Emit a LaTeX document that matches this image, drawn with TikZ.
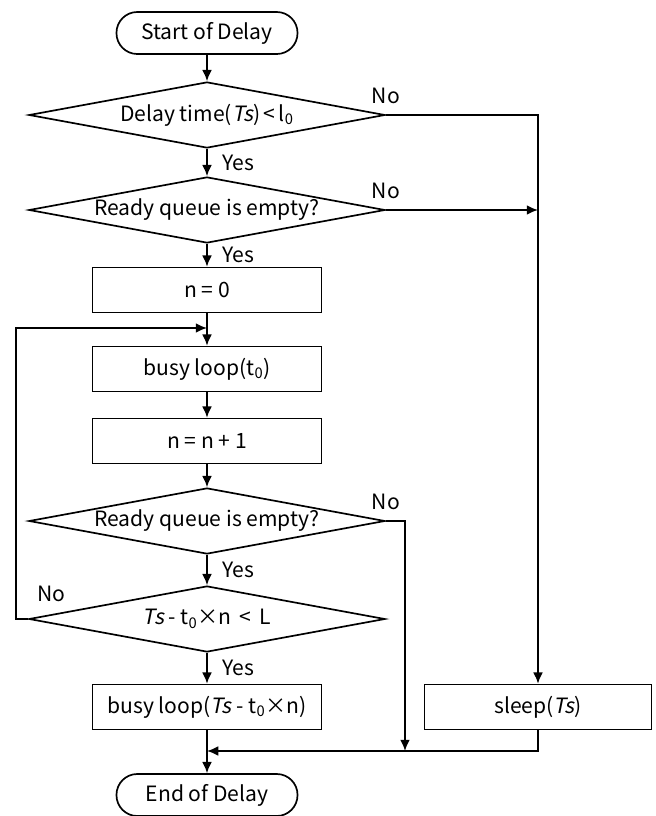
\documentclass[tikz,border=0pt]{standalone}
\usepackage{fontspec}
\setmainfont{Noto Sans CJK JP}[AutoFakeSlant=0.2]
\usetikzlibrary{shapes.geometric,arrows.meta,positioning}

\tikzset{
	term/.style={draw,line width=1.2pt,rounded corners=0.52cm,minimum width=4.525cm,minimum height=1.05cm,inner sep=0pt},
	decide/.style={draw,diamond,aspect=5.4,inner sep=0pt,line width=1.2pt,minimum width=8.9cm,minimum height=1.65cm},
	proc/.style={draw,line width=1.2pt,minimum width=5.725cm,minimum height=1.125cm,inner sep=0pt},
	flow/.style={line width=1.2pt,-{Latex[length=8pt,width=7pt]}},
	yes/.style={right=0.3cm,inner sep=2pt},
	no/.style={anchor=south,yshift=0.2cm,inner sep=2pt}
}

\begin{document}
\begin{tikzpicture}[x=0.025cm,y=-0.025cm,font=\fontsize{15}{18}\selectfont]
	\useasboundingbox (0,0) rectangle (656,816);
	\node[term] (start) at (207,33) {Start of Delay};
	\node[decide] (d1) at (207,115) {Delay time(\textit{Ts})\,<\,l\textsubscript{0}};
	\node[decide] (d2) at (207,210) {Ready queue is empty?};
	\node[proc] (n0) at (207,290) {n = 0};
	\node[proc] (busy1) at (207,369) {busy loop(t\textsubscript{0})};
	\node[proc] (inc) at (207,441) {n = n + 1};
	\node[decide] (d3) at (207,521) {Ready queue is empty?};
	\node[decide] (d4) at (207,619) {\textit{Ts} - t\textsubscript{0}×n\, < \,L};
	\node[proc] (busy2) at (207,707) {busy loop(\textit{Ts} - t\textsubscript{0}×n)};
	\node[proc,minimum width=5.675cm] (sleep) at (538,707) {sleep(\textit{Ts})};
	\node[term] (end) at (207,795) {End of Delay};
	\coordinate (join) at (207,328);
	\coordinate (merge) at (207,751);
	\coordinate (skip) at (405,751);
	\coordinate (back) at (16,619);

	\draw[flow] (start) -- (d1);
	\draw[flow] (d1) -- node[yes]{Yes} (d2);
	\draw[flow] (d2) -- node[yes]{Yes} (n0);
	\draw[flow] (n0) -- (busy1);
	\draw[flow] (busy1) -- (inc);
	\draw[flow] (inc) -- (d3);
	\draw[flow] (d3) -- node[yes]{Yes} (d4);
	\draw[flow] (d4) -- node[yes]{Yes} (busy2);
	\draw[flow] (busy2) -- (end);
	\draw[flow] (d1.east) node[no]{No} -| (sleep.north);
	\draw[flow] (d2.east) node[no]{No} -- (d2.east -| sleep.north);
	\draw[flow] (d3.east) node[no]{No} -| (skip);
	\draw[flow] (sleep.south) |- (merge);
	\draw[flow] (d4.west) -- (back) |- (join);
	\node[anchor=south west,inner sep=2pt] (no4) at ([xshift=0.15cm,yshift=0.35cm]d4.west) {No};
\end{tikzpicture}
\end{document}
